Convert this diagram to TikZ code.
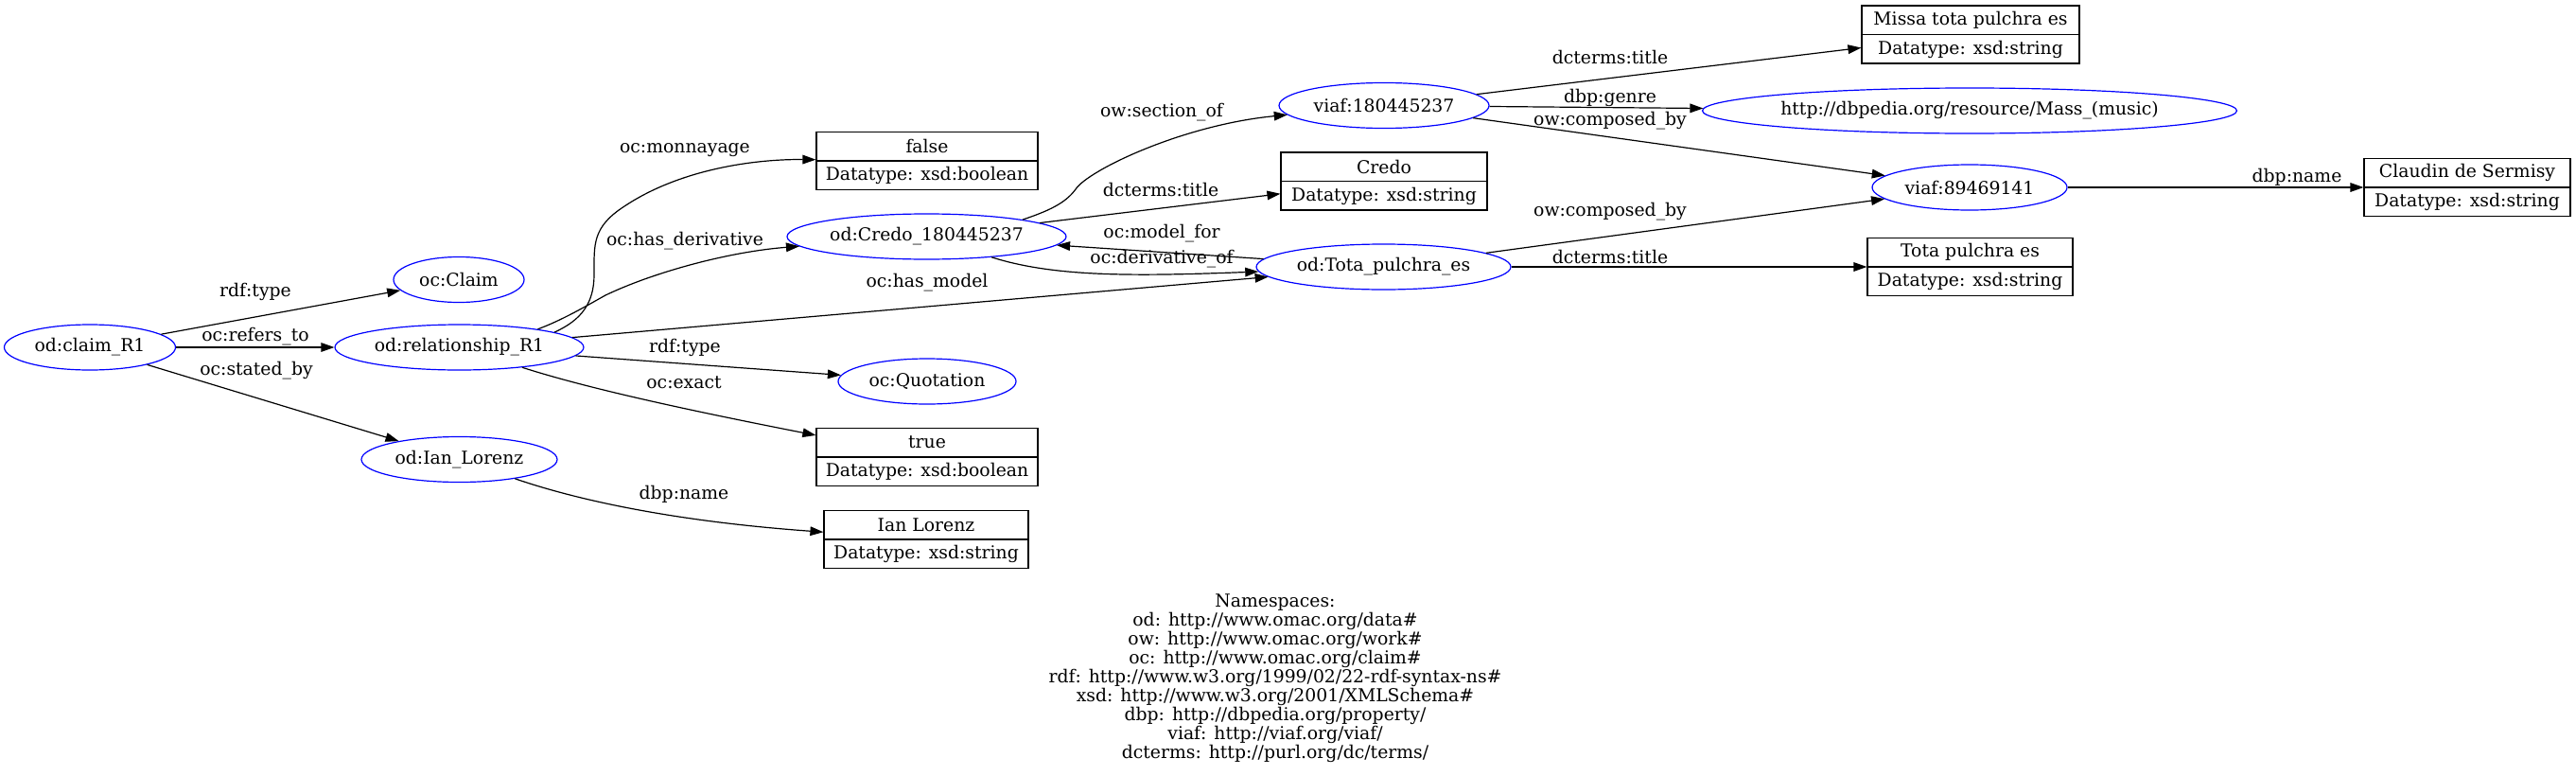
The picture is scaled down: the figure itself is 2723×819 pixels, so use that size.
\documentclass[tikz,border=0pt]{standalone}
\usepackage{fontspec}
\setmainfont{DejaVu Serif}
\usetikzlibrary{arrows.meta,shapes.geometric}
\newcommand\nodefont{\fontsize{9.4pt}{11pt}\selectfont}
\newcommand\legendfont{\fontsize{9.4pt}{10pt}\selectfont}
\tikzset{
  res/.style={ellipse, draw=blue, line width=0.6pt, inner sep=0pt, minimum height=24pt, font=\nodefont},
  litbox/.style={rectangle, draw=black, line width=0.6pt, inner sep=0pt, minimum height=30.5pt},
  lbl/.style={inner sep=0pt, font=\nodefont},
  edge/.style={draw=black, line width=0.6pt, -{Triangle[length=7pt,width=4.8pt]}},
}
% name, x, y, width, top text, bottom text
\newcommand\litnode[6]{%
  \node[litbox, minimum width=#4] (#1) at (#2,#3) {};
  \draw[line width=0.6pt] (#1.west) -- (#1.east);
  \node[lbl] (#1-t) at ([yshift=7.75pt]#1.center) {#5};
  \node[lbl] (#1-b) at ([yshift=-7.75pt]#1.center) {#6};
}
\begin{document}
\begin{tikzpicture}[x=0.5pt, y=-0.5pt]
\useasboundingbox (0,0) rectangle (2723,819);

% resource nodes
\node[res, minimum width=90.5pt] (claim) at (95,367) {od:claim\_R1};
\node[res, minimum width=69pt] (Claim) at (485,295.5) {oc:Claim};
\node[res, minimum width=131.5pt] (rel) at (485.5,367) {od:relationship\_R1};
\node[res, minimum width=103.5pt] (Ian) at (485.5,485.5) {od:Ian\_Lorenz};
\node[res, minimum width=147.5pt] (Credo) at (979.5,250) {od:Credo\_180445237};
\node[res, minimum width=94pt] (Quot) at (980,403) {oc:Quotation};
\node[res, minimum width=134.5pt] (Tota) at (1462.5,282) {od:Tota\_pulchra\_es};
\node[res, minimum width=111pt] (viafA) at (1463,111.5) {viaf:180445237};
\node[res, minimum width=275pt] (genre) at (2082,117) {http://dbpedia.org/resource/Mass\_(music)};
\node[res, minimum width=103pt] (viafB) at (2082,198) {viaf:89469141};

% literal boxes
\litnode{lfalse}{980}{170}{117pt}{false}{Datatype: xsd:boolean}
\litnode{ltrue}{980}{483}{117pt}{true}{Datatype: xsd:boolean}
\litnode{lian}{979}{570}{108pt}{Ian Lorenz}{Datatype: xsd:string}
\litnode{lcredo}{1463}{191.5}{109pt}{Credo}{Datatype: xsd:string}
\litnode{lmissa}{2083}{36.5}{115pt}{Missa tota pulchra es}{Datatype: xsd:string}
\litnode{ltota}{2082.5}{282}{108.5pt}{Tota pulchra es}{Datatype: xsd:string}
\litnode{lclaudin}{2608}{198}{109pt}{Claudin de Sermisy}{Datatype: xsd:string}

% edges
\draw[edge] (claim) -- (Claim);
\node[lbl] at (270,308) {rdf:type};
\draw[edge] (claim) -- (rel);
\node[lbl] at (270,356) {oc:refers\_to};
\draw[edge] (claim) -- (Ian);
\node[lbl] at (271,392) {oc:stated\_by};

\draw[edge] (rel.9) .. controls (615,338) and (628,320) .. (628,290)
  .. controls (628,258) and (626,240) .. (660,218)
  .. controls (720,178) and (800,168) .. (lfalse);
\node[lbl] at (724,159) {oc:monnayage};
\draw[edge] (rel.13) .. controls (595,338) and (622,322) .. (640,312)
  .. controls (690,288) and (770,266) .. (Credo);
\node[lbl] at (724,255) {oc:has\_derivative};
\draw[edge] (rel) -- (Tota);
\node[lbl] at (980,299) {oc:has\_model};
\draw[edge] (rel) -- (Quot);
\node[lbl] at (724,367) {rdf:type};
\draw[edge] (rel) .. controls (620,410) and (720,432) .. (ltrue);
\node[lbl] at (723,404) {oc:exact};
\draw[edge] (Ian) .. controls (600,525) and (700,550) .. (lian);
\node[lbl] at (723,522) {dbp:name};

\draw[edge] (Credo.10) .. controls (1108,223) and (1126,215) .. (1137,200)
  .. controls (1150,180) and (1250,132) .. (viafA);
\node[lbl] at (1228,119) {ow:section\_of};
\draw[edge] (Credo) -- (lcredo);
\node[lbl] at (1227,200) {dcterms:title};
\draw[edge] (Tota) -- (Credo);
\node[lbl] at (1228,247) {oc:model\_for};
\draw[edge] (Credo) .. controls (1115,293) and (1200,292) .. (Tota);
\node[lbl] at (1228,274) {oc:derivative\_of};

\draw[edge] (viafA) -- (lmissa);
\node[lbl] at (1702,60) {dcterms:title};
\draw[edge] (viafA) -- (genre);
\node[lbl] at (1702,103) {dbp:genre};
\draw[edge] (viafA) -- (viafB);
\node[lbl] at (1702,128) {ow:composed\_by};
\draw[edge] (Tota) -- (viafB);
\node[lbl] at (1702,224) {ow:composed\_by};
\draw[edge] (Tota) -- (ltota);
\node[lbl] at (1702,271) {dcterms:title};
\draw[edge] (viafB) -- (lclaudin);
\node[lbl] at (2428,187) {dbp:name};

% legend
\node[lbl, align=center, font=\legendfont] (legend) at (1348,717) {Namespaces:\\
od: http://www.omac.org/data\#\\
ow: http://www.omac.org/work\#\\
oc: http://www.omac.org/claim\#\\
rdf: http://www.w3.org/1999/02/22-rdf-syntax-ns\#\\
xsd: http://www.w3.org/2001/XMLSchema\#\\
dbp: http://dbpedia.org/property/\\
viaf: http://viaf.org/viaf/\\
dcterms: http://purl.org/dc/terms/};
\end{tikzpicture}
\end{document}
